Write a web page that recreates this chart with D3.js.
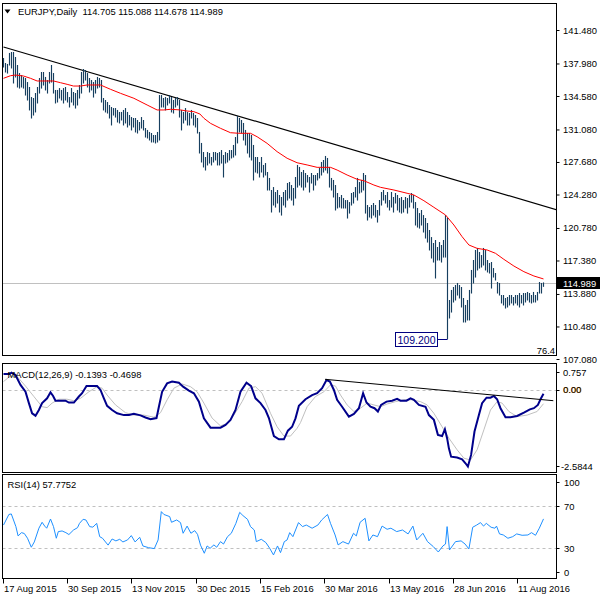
<!DOCTYPE html>
<html><head><meta charset="utf-8">
<script src="https://cdn.jsdelivr.net/npm/d3@7/dist/d3.min.js"></script>
<style>
body{margin:0;background:#fff;}
svg{display:block;}
text{font-family:"Liberation Sans",Arial,sans-serif;font-size:9.4px;fill:#000;}
</style>
</head><body>
<svg id="c" width="600" height="600"></svg>
<script>
// ---------- DATA ----------
const symbol = "EURJPY,Daily";
const lastOHLC = ["114.705", "115.088", "114.678", "114.989"];
const lastClose = 114.989;
const lowLabel = 109.2;
const fibLabel = "76.4";

const highs = [138.55,138.03,137.93,139.08,139.18,139.18,138.66,137.82,136.98,136.77,
136.57,136.46,136.04,135.52,134.47,134.37,134.89,135.52,136.46,137.09,
137.09,136.57,136.25,137.09,137.82,136.98,135.21,135.21,135.41,135.21,
135.41,135.52,135.00,134.47,135.41,135.00,134.89,135.21,135.73,137.09,
137.40,137.30,136.98,136.46,136.25,136.04,136.25,136.57,136.46,136.25,
134.37,134.16,133.95,133.64,133.43,133.32,133.32,133.12,132.91,132.91,
133.12,133.32,132.91,132.59,132.38,132.28,132.28,132.07,131.86,132.38,
132.07,131.23,131.03,130.82,130.71,130.50,130.50,130.82,134.68,134.68,
134.37,134.47,134.37,134.68,134.47,134.16,134.37,134.47,134.16,133.12,
132.91,133.32,132.91,132.80,133.12,132.80,132.59,132.28,130.82,129.67,
128.72,128.20,128.72,128.62,128.20,128.72,128.72,128.62,128.72,128.93,
128.41,128.72,128.62,128.93,128.93,129.46,130.29,132.49,132.28,132.07,
131.76,131.03,130.71,130.71,130.50,129.46,128.20,128.20,127.68,128.20,
127.37,127.57,126.63,126.01,124.75,125.06,124.54,124.75,124.23,124.02,
124.54,124.75,125.48,125.59,125.27,124.96,126.11,127.37,127.16,126.63,
126.84,126.53,126.32,126.11,126.53,126.32,126.32,126.53,127.05,127.68,
127.89,128.31,128.10,127.16,126.01,125.80,125.27,124.44,124.02,124.23,
123.91,123.70,123.70,123.49,124.44,124.54,125.06,126.01,125.59,125.80,
126.53,126.32,123.18,122.97,123.18,123.39,123.18,122.66,123.70,124.54,
124.75,124.23,124.54,123.70,124.54,124.02,124.44,124.23,123.91,124.02,
123.70,124.02,123.91,124.23,124.44,124.23,123.49,122.87,122.34,122.66,
122.13,121.82,121.30,120.57,119.83,119.21,119.52,118.79,119.31,119.00,
119.52,122.13,121.82,113.25,114.30,114.61,114.82,115.03,114.82,114.61,
113.46,112.73,113.25,114.30,116.39,117.43,118.48,118.69,118.27,117.95,
118.69,118.48,117.43,117.12,117.22,116.59,116.07,115.13,115.03,113.77,
113.77,113.46,113.56,113.77,113.77,113.56,113.77,113.77,113.98,113.77,
113.98,113.98,114.09,113.98,113.77,114.09,113.77,114.09,115.13,115.03,
115.088];

const lows = [137.61,137.09,136.98,137.82,137.51,135.94,136.57,135.52,135.41,135.52,
135.41,134.68,134.16,133.12,132.28,132.59,132.91,133.85,134.89,135.41,
135.73,135.21,134.89,135.94,136.04,134.89,133.85,133.95,134.37,134.16,
133.85,134.16,133.95,133.43,133.95,133.64,133.32,133.64,134.37,134.89,
135.94,136.25,135.52,135.00,135.21,134.47,134.89,135.41,135.52,133.95,
133.12,132.91,132.80,132.28,131.55,132.59,132.38,131.86,131.76,132.07,
131.55,131.76,131.34,131.55,131.03,131.34,130.82,130.71,131.03,131.23,
131.03,130.29,130.19,129.98,129.77,129.77,129.67,129.77,129.98,133.43,
133.43,133.12,133.64,133.85,132.91,132.80,133.43,133.64,132.38,131.03,
131.76,132.07,131.55,131.55,132.28,131.55,131.34,130.71,128.62,127.68,
127.16,126.84,127.37,127.57,127.37,127.68,127.89,127.37,127.37,127.57,
126.11,127.57,127.68,127.89,128.10,128.20,128.41,129.67,130.82,130.71,
129.98,129.46,128.62,128.20,127.89,125.80,126.63,126.53,126.11,126.63,
126.11,126.32,124.75,124.75,122.45,123.18,122.97,123.39,122.45,122.13,
123.18,122.97,123.70,123.91,123.70,123.18,123.91,125.06,125.27,125.06,
124.75,125.06,125.59,124.54,125.48,124.75,125.27,125.80,126.01,126.32,
126.63,126.84,126.53,125.06,124.75,124.02,122.66,122.87,122.97,122.87,
122.87,122.87,121.82,122.34,123.18,123.39,124.02,123.70,124.44,124.54,
124.75,122.34,121.61,121.93,121.82,122.13,121.93,121.40,122.13,123.18,
123.70,123.39,122.97,122.66,122.97,122.45,123.39,122.66,122.45,122.34,
122.45,122.87,122.34,122.97,123.49,122.87,121.09,120.88,120.77,121.09,
120.36,119.73,119.31,118.48,117.64,117.22,115.55,117.43,117.43,117.22,
117.74,117.74,109.20,111.37,111.99,113.04,113.25,113.77,113.46,112.52,
110.95,110.95,111.16,111.16,113.98,115.03,115.65,116.39,116.59,116.70,
116.91,116.39,116.18,116.07,114.50,115.65,115.34,113.98,113.77,112.94,
112.73,112.41,112.52,112.73,112.94,112.73,112.94,112.73,112.52,112.94,
112.73,113.04,113.25,113.04,112.94,113.04,113.04,113.25,113.98,113.98,
114.678];

// moving average (bar index, price)
const maPts = [[0,136.43],[3.5,136.70],[6,136.77],[10,136.67],[13.5,136.43],[16.8,136.15],[25,136.15],
[28.5,135.97],[31.8,135.80],[35,135.62],[38.5,135.62],[41.8,135.73],[48.5,135.73],[53.5,135.28],
[58.5,134.86],[65.2,134.34],[71.8,133.64],[76.8,133.12],[80.2,133.12],[83.5,133.19],[88.5,133.12],
[91.8,133.01],[95.2,132.94],[98.2,132.70],[100.2,132.25],[103.5,131.72],[108.5,131.20],[113.5,130.74],
[117.7,130.68],[123.5,130.68],[126.8,130.32],[131.8,129.63],[136.8,128.76],[141.8,128.07],[146.8,127.60],
[151.8,127.37],[156.8,127.12],[163.5,127.12],[166.8,126.84],[171.8,126.32],[176.8,125.87],[180.2,125.72],
[185.2,125.27],[188.5,125.03],[195.2,124.75],[201.8,124.41],[205.2,124.23],[210.2,123.63],[215.2,122.94],
[221,122.14],[225.2,121.09],[229.3,119.87],[232.7,119.00],[236.8,118.65],[241.8,118.48],[246,118.13],
[250.2,117.50],[255.2,116.80],[260.2,116.21],[265.2,115.76],[270,115.45]];

// long-term trendline (bar index, price)
const trendPts = [[0,139.70],[276.5,122.69]];

// MACD main line and signal (bar index, value)
const macdMain = [[0,0.52],[3,0.52],[4,0.57],[6,0.49],[8.5,0.16],[11,-0.07],[12.7,-0.45],[14.3,-0.79],[16,-0.87],
[17.7,-0.68],[19.3,-0.45],[21.8,-0.29],[23.5,-0.09],[24.8,-0.21],[26,-0.37],[28.5,-0.37],[31,-0.37],[32.7,-0.43],
[35.2,-0.43],[37.7,-0.23],[39.3,-0.12],[41.5,0.12],[44.3,0.12],[46.8,0.12],[48.5,-0.01],[50.2,-0.29],[51.8,-0.54],
[54.3,-0.68],[56.8,-0.79],[60.2,-0.85],[62.7,-0.85],[65.2,-0.81],[68.5,-0.86],[71,-0.93],[73.5,-0.99],[76.5,-0.95],
[77.7,-0.57],[79.3,-0.07],[81.8,0.21],[84.3,0.27],[87.7,0.23],[89.8,0.10],[92.7,-0.03],[95.2,-0.12],[97.7,-0.40],
[100.2,-0.96],[103.5,-1.27],[108.5,-1.27],[111,-1.18],[113.5,-1.01],[116,-0.68],[118.5,-0.07],[121.5,0.23],
[123.8,0.12],[126,-0.29],[128.5,-0.45],[131,-0.68],[132.7,-0.95],[135.2,-1.55],[137.7,-1.66],[140.2,-1.66],
[142.2,-1.37],[144.3,-1.24],[146,-0.96],[147.7,-0.54],[151,-0.32],[154.3,-0.18],[156.8,-0.12],[159.3,0.05],
[161.5,0.32],[163.2,0.27],[165.2,-0.01],[166.8,-0.34],[169.3,-0.57],[172.7,-0.90],[175.2,-0.81],[177.7,-0.62],
[179.8,-0.12],[181.5,-0.43],[183.5,-0.57],[185.5,-0.62],[187.2,-0.73],[188.8,-0.51],[191.5,-0.40],[194.3,-0.37],
[196.8,-0.31],[198.5,-0.37],[201.5,-0.37],[203.5,-0.29],[205.2,-0.34],[207.7,-0.51],[211,-0.57],[212.7,-0.85],
[215.2,-1.01],[217.2,-1.51],[219.3,-1.55],[220.7,-1.32],[221.8,-1.62],[222.7,-1.96],[223.8,-2.24],[226.8,-2.27],
[229.3,-2.33],[231,-2.46],[232.2,-2.57],[233.8,-2.18],[235.5,-1.40],[237.7,-0.85],[239.3,-0.45],[241.5,-0.27],
[243.5,-0.27],[245.2,-0.21],[246.8,-0.32],[248.5,-0.62],[251,-0.92],[253.5,-0.92],[256.8,-0.88],[260.2,-0.77],
[263.2,-0.66],[265.2,-0.62],[267.2,-0.51],[268.5,-0.32],[270,-0.14]];

const macdSignal = [[0,0.27],[3.5,0.46],[6.8,0.44],[11,0.12],[15.2,-0.23],[19.3,-0.57],[21.8,-0.60],[24.3,-0.45],
[27.7,-0.32],[31.8,-0.32],[35.2,-0.37],[38.5,-0.29],[42.7,-0.07],[46.8,0.10],[49.3,0.05],[51.8,-0.18],[56,-0.51],
[61,-0.77],[65.2,-0.85],[70.2,-0.85],[75.2,-0.92],[78.5,-0.77],[81.8,-0.34],[85.2,0.05],[89.3,0.19],[93.5,0.10],
[96.8,-0.07],[100.2,-0.45],[104.3,-0.95],[108.5,-1.21],[111.8,-1.13],[115.2,-0.85],[119.3,-0.40],[122.7,0.05],
[126,0.10],[129.3,-0.12],[133.5,-0.79],[136.8,-1.24],[140.2,-1.55],[143.5,-1.55],[146.8,-1.29],[148.5,-1.10],
[151.8,-0.57],[156,-0.23],[160.2,-0.07],[163.5,0.16],[166,0.12],[168.5,-0.18],[171.8,-0.51],[175.2,-0.73],
[178.5,-0.62],[181.8,-0.45],[185.2,-0.51],[188.5,-0.57],[191.8,-0.48],[196,-0.40],[200.2,-0.34],[204.3,-0.34],
[208.5,-0.40],[211.8,-0.51],[215.2,-0.79],[219.3,-1.24],[222.7,-1.62],[226.8,-2.01],[230.2,-2.29],[233.5,-2.35],
[236.8,-2.01],[240.2,-1.34],[243.5,-0.68],[246.8,-0.40],[249.3,-0.45],[252.7,-0.73],[256.8,-0.90],[261.8,-0.85],
[266.8,-0.73],[270,-0.47]];

const macdTrend = [[160.75,0.346],[274.9,-0.369]];
const macdLast = ["-0.1393", "-0.4698"];
const macdAxis = [0.757, 0, -2.5844];
const macdAxisText = ["0.757", "0.00", "-2.5844"];

// RSI(14) (bar index, value)
const rsiPts = [[0,52],[2.7,62],[3.9,62.5],[6.2,50.5],[7.3,41.7],[9,44.8],[10.4,44],[12,39.5],[13.9,31],[15.4,36],
[17.7,49],[19.3,54.6],[20.6,51],[21.6,49],[23.5,57.7],[25,50.5],[26.4,39.5],[27.4,45.8],[29.3,46.4],[31.2,44.8],
[32.7,43],[35,47.3],[37,49.5],[38,53.6],[39.8,57.4],[41.2,56.8],[43.1,50.5],[44.7,50],[46.6,53.6],[48.1,41],
[49.5,39.5],[52.3,33],[54.3,38.8],[56.2,37],[58.1,38.5],[59.7,36],[62,37.9],[63.9,42],[65.8,36],[68.1,40.4],
[69.7,32.2],[72.5,30.6],[75.4,29.7],[77.3,37.9],[78.9,64.7],[80.2,62],[83.1,60],[84,54.6],[86.6,56.8],[88.5,54.3],
[89.8,44.2],[91.8,51],[93.7,44.2],[95.6,46.7],[97,43.2],[98.5,33],[100.4,25.3],[101.8,32.2],[103.3,30],[105.2,33.2],
[106.6,31],[108.5,36.3],[110,34],[112,41],[113.9,44.2],[116.2,53.6],[118.1,64],[119.7,61],[122,57.4],[123.5,50.5],
[125.4,47.3],[126.4,36.3],[128.9,38.5],[131.2,35.4],[133.1,30],[135,23.7],[137,32.2],[138.5,25.9],[140.4,36.3],
[141.8,37.9],[143.1,44.8],[144.7,41],[147.5,54.3],[149.5,50.5],[151.4,52],[154.3,49],[157.2,52],[159.1,56.8],
[162,62],[163.5,53.6],[165.8,42.6],[167.3,33.2],[169.7,36.3],[172.5,34],[175,44.2],[176.4,41.7],[178.3,54.6],
[180.8,58.4],[182.7,37],[184.7,42.6],[187,41],[189.3,51],[191.8,48],[193.7,49],[196.6,45.8],[199.5,47.3],
[202.3,43.6],[204.7,51],[206.6,37.9],[209.7,44.2],[212,36.3],[214.9,31.6],[217.4,26.5],[219.7,32.2],[221,34],
[221.8,50.5],[223,28.4],[226,36.3],[228.8,37],[230.8,34],[232.7,29.4],[234.6,49.9],[236.6,52],[238.5,54.3],
[240,51],[241.4,53.6],[243.8,49.9],[245.7,49],[246.5,51],[248,43.6],[249.9,42.6],[252.2,39.5],[254.6,41],
[256.6,43.6],[259.3,42.3],[262.2,42.6],[264,44.8],[266,42.3],[267.9,49],[270,57.8]];
const rsiLast = "57.7752";
const rsiAxis = [100, 70, 30, 0];
const rsiLevels = [70, 30];

// price axis ticks
const priceTicks = [141.48, 137.98, 134.58, 131.08, 127.68, 124.28, 120.78, 117.38, 113.88, 110.48, 107.08];

// time axis
const dateLabels = ["17 Aug 2015","30 Sep 2015","13 Nov 2015","30 Dec 2015","15 Feb 2016","30 Mar 2016","13 May 2016","28 Jun 2016","11 Aug 2016"];
const dateIdx = [0, 32, 64, 96.5, 128.5, 160.5, 193, 225, 257];

// ---------- LAYOUT ----------
const L = 2.5, R = 556.5;
const mainP = {top: 3.5, bottom: 355.5};
const macdP = {top: 363.5, bottom: 472.5};
const rsiP = {top: 474.5, bottom: 578.5};

const svg = d3.select("#c");
const x = d3.scaleLinear().domain([0, 270]).range([3.5, 543.5]);
const yMain = d3.scaleLinear().domain([141.48, 107.08]).range([30, 359]);
const yMacd = d3.scaleLinear().domain([0.757, -2.5844]).range([367, 467]);
const yRsi = d3.scaleLinear().domain([0, 100]).range([580, 474.3]);

const defs = svg.append("defs");
[["cm", mainP], ["cd", macdP], ["cr", rsiP]].forEach(([id, p]) => {
  defs.append("clipPath").attr("id", id).append("rect")
    .attr("x", L + 0.5).attr("y", p.top + 0.5).attr("width", R - L - 1).attr("height", p.bottom - p.top - 1);
});

// ---------- MAIN PANEL ----------
const gm = svg.append("g").attr("clip-path", "url(#cm)");
// current price line
gm.append("line").attr("x1", L).attr("x2", R)
  .attr("y1", Math.round(yMain(lastClose)) + 0.5).attr("y2", Math.round(yMain(lastClose)) + 0.5)
  .attr("stroke", "#c0c0c0").attr("stroke-width", 1);

// trendline
gm.append("path").datum(trendPts)
  .attr("d", d3.line().x(d => x(d[0])).y(d => yMain(d[1])))
  .attr("fill", "none").attr("stroke", "#000").attr("stroke-width", 1.2);

// bars
gm.append("g").selectAll("line").data(highs).join("line")
  .attr("x1", (d, i) => x(i)).attr("x2", (d, i) => x(i))
  .attr("y1", d => yMain(d)).attr("y2", (d, i) => yMain(lows[i]) + 0.5)
  .attr("stroke", "#173f5f").attr("stroke-width", 1.15);

// MA
gm.append("path").datum(maPts)
  .attr("d", d3.line().x(d => x(d[0])).y(d => yMain(d[1])))
  .attr("fill", "none").attr("stroke", "#ff0000").attr("stroke-width", 1);

// low label
const ly = yMain(lowLabel);
gm.append("line").attr("x1", 437.5).attr("x2", x(222)).attr("y1", Math.round(ly) + 0.5).attr("y2", Math.round(ly) + 0.5)
  .attr("stroke", "#000080").attr("stroke-width", 1);
gm.append("rect").attr("x", 395.5).attr("y", Math.round(ly) - 6.5).attr("width", 42).attr("height", 14)
  .attr("fill", "#fff").attr("stroke", "#000080").attr("stroke-width", 1);
gm.append("text").attr("x", 416.5).attr("y", Math.round(ly) + 4.5).attr("text-anchor", "middle")
  .style("fill", "#000080").style("font-size", "10.5px").text(lowLabel.toFixed(3));

// fib label
svg.append("text").attr("x", 555).attr("y", 353.5).attr("text-anchor", "end").text(fibLabel);

// header
svg.append("path").attr("d", "M4.5,9.5 L10.5,9.5 L7.5,13.5 Z").attr("fill", "#000");
svg.append("text").attr("x", 18).attr("y", 14.5).style("white-space", "pre")
  .text(symbol + "  " + lastOHLC.join(" "));

// price axis
const axM = svg.append("g").attr("transform", `translate(${R},0)`)
  .call(d3.axisRight(yMain).tickValues(priceTicks).tickSize(3).tickPadding(3.5).tickFormat(d3.format(".3f")));
axM.select(".domain").remove();
axM.selectAll("text").style("font-family", '"Liberation Sans",Arial,sans-serif').style("font-size", "9.4px").attr("fill", "#000");
axM.selectAll("line").attr("stroke", "#000");

// current price box
const cy = Math.round(yMain(lastClose));
svg.append("rect").attr("x", 557).attr("y", cy - 6).attr("width", 43).attr("height", 12).attr("fill", "#000");
svg.append("text").attr("x", 563).attr("y", cy + 3.5).style("fill", "#fff").text(lastClose.toFixed(3));

// ---------- MACD PANEL ----------
const gd = svg.append("g").attr("clip-path", "url(#cd)");
gd.append("line").attr("x1", L).attr("x2", R).attr("y1", Math.round(yMacd(0)) + 0.5).attr("y2", Math.round(yMacd(0)) + 0.5)
  .attr("stroke", "#c0c0c0").attr("stroke-dasharray", "3,3");
gd.append("path").datum(macdSignal)
  .attr("d", d3.line().x(d => x(d[0])).y(d => yMacd(d[1])))
  .attr("fill", "none").attr("stroke", "#c0c0c0").attr("stroke-width", 1);
gd.append("path").datum(macdMain)
  .attr("d", d3.line().x(d => x(d[0])).y(d => yMacd(d[1])))
  .attr("fill", "none").attr("stroke", "#00008b").attr("stroke-width", 2);
gd.append("path").datum(macdTrend)
  .attr("d", d3.line().x(d => x(d[0])).y(d => yMacd(d[1])))
  .attr("fill", "none").attr("stroke", "#000").attr("stroke-width", 1);
svg.append("text").attr("x", 7.5).attr("y", 377.5).text("MACD(12,26,9) " + macdLast.join(" "));

const macdOff = [5, 0, -1];
macdAxis.forEach((v, i) => {
  const yy = yMacd(v) + macdOff[i];
  svg.append("line").attr("x1", R).attr("x2", R + 3).attr("y1", Math.round(yy) + 0.5).attr("y2", Math.round(yy) + 0.5).attr("stroke", "#000");
  if (v === 0) {
    svg.append("text").attr("x", 563.5).attr("y", yy + 3.5).style("fill", "#e08000").text(macdAxisText[i]);
  }
  svg.append("text").attr("x", i === 2 ? 561 : 563).attr("y", yy + 3.5).text(macdAxisText[i]);
});

// ---------- RSI PANEL ----------
const gr = svg.append("g").attr("clip-path", "url(#cr)");
gr.selectAll("line.lv").data(rsiLevels).join("line").attr("class", "lv")
  .attr("x1", L).attr("x2", R).attr("y1", d => Math.round(yRsi(d)) + 0.5).attr("y2", d => Math.round(yRsi(d)) + 0.5)
  .attr("stroke", "#c0c0c0").attr("stroke-dasharray", "3,3");
gr.append("path").datum(rsiPts)
  .attr("d", d3.line().x(d => x(d[0])).y(d => yRsi(d[1])))
  .attr("fill", "none").attr("stroke", "#1e90ff").attr("stroke-width", 1);
svg.append("text").attr("x", 7.5).attr("y", 487.5).text("RSI(14) " + rsiLast);
const rsiOff = [7.7, 0, 0, -8];
rsiAxis.forEach((v, i) => {
  const yy = yRsi(v) + rsiOff[i];
  svg.append("line").attr("x1", R).attr("x2", R + 3).attr("y1", Math.round(yy) + 0.5).attr("y2", Math.round(yy) + 0.5).attr("stroke", "#000");
  svg.append("text").attr("x", 564).attr("y", yy + 3.5).text(String(v));
});

// ---------- FRAMES ----------
[mainP, macdP, rsiP].forEach(p => {
  svg.append("rect").attr("x", L).attr("y", p.top).attr("width", R - L).attr("height", p.bottom - p.top)
    .attr("fill", "none").attr("stroke", "#000").attr("stroke-width", 1);
});

// ---------- TIME AXIS ----------
dateIdx.forEach((d, i) => {
  const xx = Math.round(x(d)) - 0.5;
  svg.append("line").attr("x1", xx).attr("x2", xx).attr("y1", rsiP.bottom).attr("y2", rsiP.bottom + 5).attr("stroke", "#000");
  svg.append("text").attr("x", xx + 0.5).attr("y", 592).text(dateLabels[i]);
});
</script>
</body></html>
